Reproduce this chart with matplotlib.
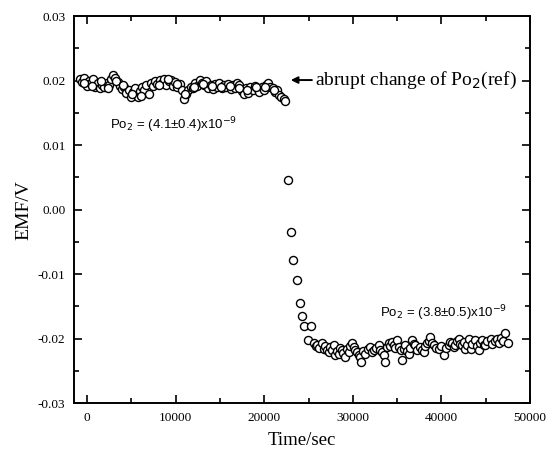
import matplotlib.pyplot as plt
from matplotlib.ticker import MultipleLocator, FormatStrFormatter

# before the change of Po2(ref)
t_before = [-800, -550, -300, -50, 200, 450, 700, 950, 1200, 1450, 1700, 1950,
            2200, 2450, 2700, 2950, 3200, 3450, 3700, 3950, 4200, 4450, 4700,
            4950, 5200, 5450, 5700, 5950, 6200, 6450, 6700, 6950, 7200, 7450,
            7700, 7950, 8200, 8450, 8700, 8950, 9200, 9450, 9700, 9950, 10200,
            10450, 10700, 10950, 11200, 11450, 11700, 11950, 12200, 12450,
            12700, 12950, 13200, 13450, 13700, 13950, 14200, 14450, 14700,
            14950, 15200, 15450, 15700, 15950, 16200, 16450, 16700, 16950,
            17200, 17450, 17700, 17950, 18200, 18450, 18700, 18950, 19200,
            19450, 19700, 19950, 20200, 20450, 20700, 20950, 21200, 21450,
            21700, 21950, 22200, 22400,
            -400, 600, 1600, 2400, 3300, 4100, 5100, 6100, 8100, 9100, 10100,
            11100, 12100, 13100, 14100, 15100, 16100, 17100, 18100, 19100,
            20100, 21100]
emf_before = [0.0203, 0.0198, 0.0204, 0.0192, 0.0200, 0.0196, 0.0202, 0.0190,
              0.0197, 0.0188, 0.0194, 0.0191, 0.0197, 0.0193, 0.0202, 0.0209,
              0.0204, 0.0198, 0.0192, 0.0187, 0.0190, 0.0181, 0.0186, 0.0174,
              0.0183, 0.0189, 0.0174, 0.0184, 0.0190, 0.0186, 0.0193, 0.0180,
              0.0196, 0.0192, 0.0199, 0.0195, 0.0201, 0.0197, 0.0202, 0.0194,
              0.0199, 0.0201, 0.0192, 0.0198, 0.0190, 0.0195, 0.0186, 0.0172,
              0.0179, 0.0186, 0.0191, 0.0188, 0.0196, 0.0192, 0.0201, 0.0197,
              0.0193, 0.0199, 0.0189, 0.0194, 0.0187, 0.0195, 0.0190, 0.0196,
              0.0188, 0.0193, 0.0191, 0.0195, 0.0187, 0.0194, 0.0189, 0.0196,
              0.0193, 0.0184, 0.0180, 0.0188, 0.0181, 0.0190, 0.0186, 0.0192,
              0.0188, 0.0183, 0.0190, 0.0186, 0.0194, 0.0197, 0.0191, 0.0188,
              0.0183, 0.0185, 0.0178, 0.0175, 0.0171, 0.0168,
              0.0196, 0.0192, 0.0200, 0.0189, 0.0199, 0.0193, 0.0180, 0.0177,
              0.0193, 0.0202, 0.0195, 0.0180, 0.0190, 0.0195, 0.0192, 0.0190,
              0.0192, 0.0189, 0.0185, 0.0190, 0.0190, 0.0186]

# transient
t_drop = [22700, 23050, 23300, 23700, 24070, 24300, 24500, 25300, 24970]
emf_drop = [0.0046, -0.0035, -0.0078, -0.0109, -0.0145, -0.0165, -0.0181,
            -0.0181, -0.0202]

# after the change
t_after = [25580, 25800, 25960, 26200, 26520, 26710, 26900, 27090, 27300,
           27460, 27650, 27840, 28030, 28200, 28410, 28600, 28780, 28950,
           29160, 29350, 29540, 29700, 29910, 30100, 30300, 30480, 30700,
           30860, 30900, 31150, 31420, 31700, 31990, 32200, 32370, 32650,
           32930, 33100, 33310, 33500, 33690, 33900, 34060, 34250, 34440,
           34620, 34800, 35000, 35180, 35400, 35560, 35750, 35940, 36100,
           36310, 36500, 36690, 36900, 37070, 37300, 37630, 37800, 38010,
           38200, 38390, 38600, 38760, 38950, 39140, 39400, 39710, 40000,
           40270, 40550, 40840, 41000, 41210, 41400, 41590, 41800, 41970,
           42150, 42350, 42550, 42720, 42900, 43100, 43290, 43500, 43850,
           44050, 44230, 44400, 44610, 44800, 44980, 45200, 45550, 45750,
           46000, 46300, 46500, 46700, 46950, 47230, 47570]
emf_after = [-0.0207, -0.0212, -0.0210, -0.0214, -0.0207, -0.0216, -0.0212,
             -0.0218, -0.0221, -0.0213, -0.0217, -0.0210, -0.0226, -0.0219,
             -0.0223, -0.0214, -0.0218, -0.0222, -0.0228, -0.0216, -0.0220,
             -0.0212, -0.0207, -0.0213, -0.0217, -0.0220, -0.0225, -0.0228,
             -0.0236, -0.0219, -0.0223, -0.0216, -0.0213, -0.0221, -0.0218,
             -0.0214, -0.0210, -0.0217, -0.0220, -0.0225, -0.0236, -0.0213,
             -0.0207, -0.0211, -0.0205, -0.0209, -0.0215, -0.0202, -0.0213,
             -0.0218, -0.0233, -0.0216, -0.0210, -0.0219, -0.0223, -0.0214,
             -0.0202, -0.0208, -0.0210, -0.0217, -0.0213, -0.0218, -0.0220,
             -0.0212, -0.0207, -0.0203, -0.0197, -0.0206, -0.0210, -0.0214,
             -0.0216, -0.0211, -0.0226, -0.0215, -0.0210, -0.0205, -0.0207,
             -0.0213, -0.0210, -0.0204, -0.0200, -0.0208, -0.0210, -0.0205,
             -0.0216, -0.0209, -0.0200, -0.0216, -0.0208, -0.0202, -0.0212,
             -0.0218, -0.0206, -0.0202, -0.0209, -0.0210, -0.0204, -0.0200,
             -0.0208, -0.0203, -0.0200, -0.0206, -0.0199, -0.0204, -0.0191,
             -0.0207]

serif = 'Liberation Serif'
sans = 'Liberation Sans'

fig = plt.figure(figsize=(5.59, 4.5), dpi=100)
ax = fig.add_axes([0.132, 0.104, 0.816, 0.860])

mk = dict(ls='none', marker='o', ms=5.8, mfc='white', mec='black', mew=1.0)
ax.plot(t_before, emf_before, **mk)
ax.plot(t_drop, emf_drop, **mk)
ax.plot(t_after, emf_after, **mk)

ax.set_xlim(-1500, 50000)
ax.set_ylim(-0.03, 0.03)
ax.xaxis.set_major_locator(MultipleLocator(10000))
ax.xaxis.set_minor_locator(MultipleLocator(5000))
ax.yaxis.set_major_locator(MultipleLocator(0.01))
ax.yaxis.set_minor_locator(MultipleLocator(0.005))
ax.yaxis.set_major_formatter(FormatStrFormatter('%.2f'))
ax.tick_params(which='both', direction='in', top=True, right=True, width=1.2)
ax.tick_params(which='major', length=6, labelsize=9.5, pad=6)
ax.tick_params(which='minor', length=3.5)
for lab in ax.get_xticklabels() + ax.get_yticklabels():
    lab.set_family(serif)
for s in ax.spines.values():
    s.set_linewidth(1.4)

ax.set_xlabel('Time/sec', family=serif, fontsize=13.5, labelpad=6)
ax.set_ylabel('EMF/V', family=serif, fontsize=14, labelpad=4)

ax.text(2600, 0.0131, 'Po$_2$ = (4.1±0.4)x10$^{-9}$', family=sans,
        fontsize=9.5, va='center')
ax.text(33100, -0.0160, 'Po$_2$ = (3.8±0.5)x10$^{-9}$', family=sans,
        fontsize=9.5, va='center')
ax.annotate('abrupt change of Po$_2$(ref)', xy=(23000, 0.0201),
            xytext=(25700, 0.0201), family=serif, fontsize=14, va='center',
            arrowprops=dict(arrowstyle='-|>', color='black', lw=1.4,
                            mutation_scale=10, shrinkA=0, shrinkB=0))

fig.savefig('out.png', dpi=100)
